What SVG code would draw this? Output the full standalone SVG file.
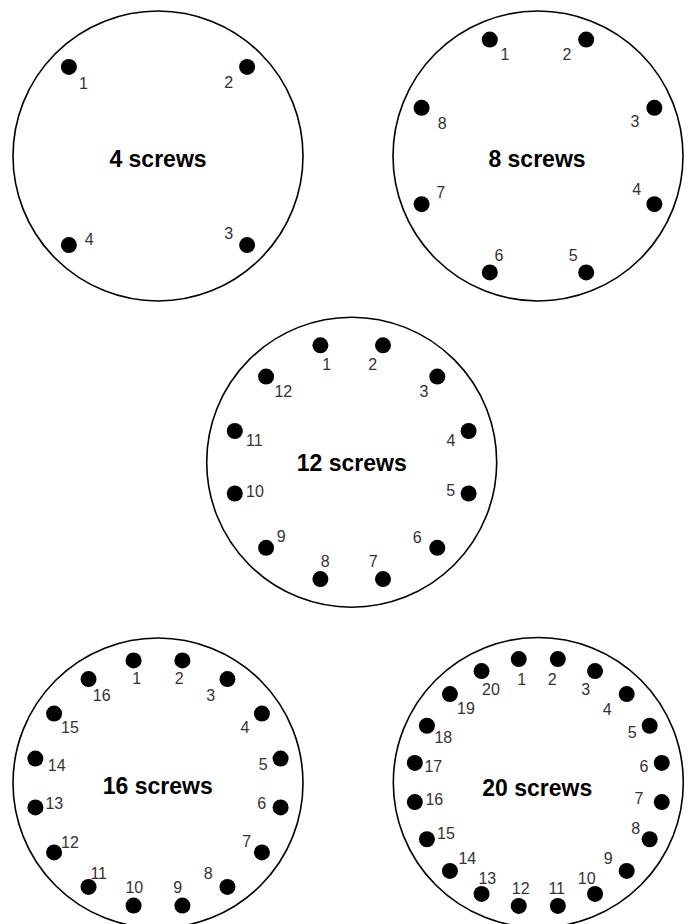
<svg xmlns="http://www.w3.org/2000/svg" width="688" height="924" viewBox="0 0 688 924">
<style>
.ring{fill:#fff;stroke:#000;stroke-width:1.6}
.dot{fill:#000}
.num{font-family:"Liberation Sans",Arial,sans-serif;font-size:16px;fill:#333;text-anchor:middle}
.title{font-family:"Liberation Sans",Arial,sans-serif;font-size:23px;font-weight:bold;fill:#000;text-anchor:middle}
</style>
<rect width="688" height="924" fill="#fff"/>
<g id="connectors"></g>
<g id="plate-4">
<circle class="ring" cx="158" cy="156" r="145"/>
<circle class="dot" cx="68.9" cy="66.9" r="8"/>
<circle class="dot" cx="247.1" cy="66.9" r="8"/>
<circle class="dot" cx="247.1" cy="245.1" r="8"/>
<circle class="dot" cx="68.9" cy="245.1" r="8"/>
<text class="num" x="83.5" y="89">1</text>
<text class="num" x="228.7" y="87.5">2</text>
<text class="num" x="228.7" y="239">3</text>
<text class="num" x="89.3" y="245">4</text>
<text class="title" x="158" y="167">4 screws</text>
</g>
<g id="plate-8">
<circle class="ring" cx="538" cy="156" r="145"/>
<circle class="dot" cx="489.8" cy="39.6" r="8"/>
<circle class="dot" cx="586.2" cy="39.6" r="8"/>
<circle class="dot" cx="654.4" cy="107.8" r="8"/>
<circle class="dot" cx="654.4" cy="204.2" r="8"/>
<circle class="dot" cx="586.2" cy="272.4" r="8"/>
<circle class="dot" cx="489.8" cy="272.4" r="8"/>
<circle class="dot" cx="421.6" cy="204.2" r="8"/>
<circle class="dot" cx="421.6" cy="107.8" r="8"/>
<text class="num" x="505" y="60">1</text>
<text class="num" x="567" y="60">2</text>
<text class="num" x="635" y="126.5">3</text>
<text class="num" x="636.7" y="195">4</text>
<text class="num" x="573.3" y="261">5</text>
<text class="num" x="499" y="261">6</text>
<text class="num" x="440.7" y="198">7</text>
<text class="num" x="442.3" y="129">8</text>
<text class="title" x="537" y="167">8 screws</text>
</g>
<g id="plate-12">
<circle class="ring" cx="351.7" cy="462.2" r="145"/>
<circle class="dot" cx="320.4" cy="345.3" r="8"/>
<circle class="dot" cx="383" cy="345.3" r="8"/>
<circle class="dot" cx="437.3" cy="376.6" r="8"/>
<circle class="dot" cx="468.6" cy="431" r="8"/>
<circle class="dot" cx="468.6" cy="493.5" r="8"/>
<circle class="dot" cx="437.3" cy="547.8" r="8"/>
<circle class="dot" cx="383" cy="579.1" r="8"/>
<circle class="dot" cx="320.4" cy="579.1" r="8"/>
<circle class="dot" cx="266.1" cy="547.8" r="8"/>
<circle class="dot" cx="234.8" cy="493.5" r="8"/>
<circle class="dot" cx="234.8" cy="431" r="8"/>
<circle class="dot" cx="266.1" cy="376.6" r="8"/>
<text class="num" x="326.7" y="370">1</text>
<text class="num" x="372.7" y="370">2</text>
<text class="num" x="424" y="397">3</text>
<text class="num" x="451" y="446">4</text>
<text class="num" x="450.7" y="496">5</text>
<text class="num" x="417.3" y="542.5">6</text>
<text class="num" x="373.3" y="566.5">7</text>
<text class="num" x="325.3" y="566.5">8</text>
<text class="num" x="281.3" y="542">9</text>
<text class="num" x="255" y="496.5">10</text>
<text class="num" x="254.3" y="446">11</text>
<text class="num" x="283.3" y="397">12</text>
<text class="title" x="351.7" y="470.5">12 screws</text>
</g>
<g id="plate-16">
<circle class="ring" cx="158" cy="783" r="145"/>
<circle class="dot" cx="133.6" cy="660.4" r="8"/>
<circle class="dot" cx="182.4" cy="660.4" r="8"/>
<circle class="dot" cx="227.45" cy="679.1" r="8"/>
<circle class="dot" cx="261.9" cy="713.55" r="8"/>
<circle class="dot" cx="280.6" cy="758.6" r="8"/>
<circle class="dot" cx="280.6" cy="807.4" r="8"/>
<circle class="dot" cx="261.9" cy="852.45" r="8"/>
<circle class="dot" cx="227.45" cy="886.9" r="8"/>
<circle class="dot" cx="182.4" cy="905.6" r="8"/>
<circle class="dot" cx="133.6" cy="905.6" r="8"/>
<circle class="dot" cx="88.55" cy="886.9" r="8"/>
<circle class="dot" cx="54.1" cy="852.45" r="8"/>
<circle class="dot" cx="35.4" cy="807.4" r="8"/>
<circle class="dot" cx="35.4" cy="758.6" r="8"/>
<circle class="dot" cx="54.1" cy="713.55" r="8"/>
<circle class="dot" cx="88.55" cy="679.1" r="8"/>
<text class="num" x="136.7" y="684">1</text>
<text class="num" x="179.3" y="684">2</text>
<text class="num" x="210.7" y="701">3</text>
<text class="num" x="245" y="732.5">4</text>
<text class="num" x="263.3" y="770">5</text>
<text class="num" x="261.7" y="808.5">6</text>
<text class="num" x="246.7" y="846.5">7</text>
<text class="num" x="208.3" y="879">8</text>
<text class="num" x="177.7" y="892.5">9</text>
<text class="num" x="134.3" y="892.5">10</text>
<text class="num" x="98.7" y="879">11</text>
<text class="num" x="70" y="847.5">12</text>
<text class="num" x="54.3" y="808.5">13</text>
<text class="num" x="56.7" y="771">14</text>
<text class="num" x="70" y="733">15</text>
<text class="num" x="101.7" y="701">16</text>
<text class="title" x="157.8" y="793.5">16 screws</text>
</g>
<g id="plate-20">
<circle class="ring" cx="538.3" cy="782.5" r="145"/>
<circle class="dot" cx="518.75" cy="659.04" r="8"/>
<circle class="dot" cx="557.85" cy="659.04" r="8"/>
<circle class="dot" cx="595.05" cy="671.12" r="8"/>
<circle class="dot" cx="626.69" cy="694.11" r="8"/>
<circle class="dot" cx="649.68" cy="725.75" r="8"/>
<circle class="dot" cx="661.76" cy="762.95" r="8"/>
<circle class="dot" cx="661.76" cy="802.05" r="8"/>
<circle class="dot" cx="649.68" cy="839.25" r="8"/>
<circle class="dot" cx="626.69" cy="870.89" r="8"/>
<circle class="dot" cx="595.05" cy="893.88" r="8"/>
<circle class="dot" cx="557.85" cy="905.96" r="8"/>
<circle class="dot" cx="518.75" cy="905.96" r="8"/>
<circle class="dot" cx="481.55" cy="893.88" r="8"/>
<circle class="dot" cx="449.91" cy="870.89" r="8"/>
<circle class="dot" cx="426.92" cy="839.25" r="8"/>
<circle class="dot" cx="414.84" cy="802.05" r="8"/>
<circle class="dot" cx="414.84" cy="762.95" r="8"/>
<circle class="dot" cx="426.92" cy="725.75" r="8"/>
<circle class="dot" cx="449.91" cy="694.11" r="8"/>
<circle class="dot" cx="481.55" cy="671.12" r="8"/>
<text class="num" x="521.7" y="685">1</text>
<text class="num" x="552.3" y="685">2</text>
<text class="num" x="585.7" y="695">3</text>
<text class="num" x="607.3" y="715">4</text>
<text class="num" x="632.3" y="738">5</text>
<text class="num" x="644" y="772">6</text>
<text class="num" x="639" y="803.5">7</text>
<text class="num" x="635.7" y="834">8</text>
<text class="num" x="608.3" y="863.5">9</text>
<text class="num" x="586.7" y="884">10</text>
<text class="num" x="556.7" y="894">11</text>
<text class="num" x="520.7" y="894">12</text>
<text class="num" x="487.3" y="884">13</text>
<text class="num" x="467.3" y="864">14</text>
<text class="num" x="446" y="838.5">15</text>
<text class="num" x="434.3" y="805">16</text>
<text class="num" x="433.3" y="772">17</text>
<text class="num" x="443.3" y="742.5">18</text>
<text class="num" x="466" y="713.5">19</text>
<text class="num" x="491" y="695">20</text>
<text class="title" x="537.2" y="796">20 screws</text>
</g>
</svg>
